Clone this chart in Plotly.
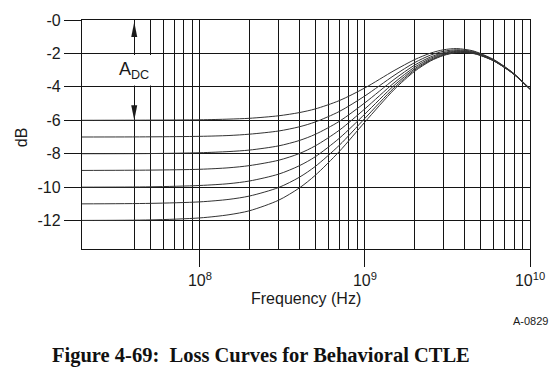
import math
import plotly.graph_objects as go

# ---- data ----
freq_hz = [1.9e7, 5e7, 1e8, 1.5e8, 2e8, 3e8, 4e8, 5e8, 7e8, 1e9, 1.5e9, 2e9,
           2.5e9, 3e9, 3.6e9, 4.5e9, 5e9, 6e9, 7e9, 8e9, 1e10]

loss_adc_6 = [-6.00, -5.99, -5.97, -5.93, -5.88, -5.73, -5.54, -5.32, -4.82, -4.06, -3.03,
              -2.37, -1.98, -1.78, -1.71, -1.84, -2.00, -2.35, -2.78, -3.21, -4.11]
loss_adc_7 = [-7.00, -6.99, -6.96, -6.91, -6.83, -6.64, -6.39, -6.10, -5.47, -4.54, -3.32,
              -2.55, -2.10, -1.87, -1.78, -1.88, -2.03, -2.38, -2.79, -3.22, -4.12]
loss_adc_8 = [-8.00, -7.99, -7.94, -7.87, -7.78, -7.53, -7.21, -6.84, -6.06, -4.95, -3.56,
              -2.70, -2.21, -1.95, -1.83, -1.92, -2.06, -2.40, -2.81, -3.23, -4.13]
loss_adc_9 = [-9.00, -8.98, -8.93, -8.84, -8.71, -8.39, -7.99, -7.53, -6.59, -5.31, -3.76,
              -2.82, -2.29, -2.00, -1.87, -1.94, -2.08, -2.41, -2.82, -3.24, -4.13]
loss_adc_10 = [-10.00, -9.98, -9.90, -9.79, -9.63, -9.22, -8.72, -8.18, -7.07, -5.62, -3.92,
               -2.92, -2.36, -2.05, -1.90, -1.97, -2.10, -2.42, -2.83, -3.25, -4.14]
loss_adc_11 = [-11.00, -10.97, -10.88, -10.73, -10.53, -10.02, -9.41, -8.76, -7.49, -5.88, -4.06,
               -3.00, -2.41, -2.09, -1.93, -1.98, -2.11, -2.43, -2.84, -3.25, -4.14]
loss_adc_12 = [-11.99, -11.96, -11.84, -11.65, -11.41, -10.78, -10.05, -9.29, -7.86, -6.10, -4.17,
               -3.07, -2.45, -2.12, -1.95, -2.00, -2.12, -2.44, -2.84, -3.26, -4.14]

curves = [loss_adc_6, loss_adc_7, loss_adc_8, loss_adc_9, loss_adc_10, loss_adc_11, loss_adc_12]

y_tick_vals = [0, -2, -4, -6, -8, -10, -12]
y_tick_text = ["-0", "-2", "-4", "-6", "-8", "-10", "-12"]
x_major_vals = [1e8, 1e9, 1e10]
x_major_text = ["10<sup>8</sup>", "10<sup>9</sup>", "10<sup>10</sup>"]
x_minor_vals = [4e7, 5e7, 6e7, 7e7, 8e7, 9e7,
                2e8, 3e8, 4e8, 5e8, 6e8, 7e8, 8e8, 9e8,
                2e9, 3e9, 4e9, 5e9, 6e9, 7e9, 8e9, 9e9]

x_min, x_max = 1.93e7, 1e10
y_min, y_max = -13.7, 0
adc_x = 4e7

GRID = "#141414"
SANS = "Liberation Sans, Arial, sans-serif"

fig = go.Figure()
for vals in curves:
    fig.add_trace(go.Scatter(
        x=freq_hz, y=vals, mode="lines",
        line=dict(color="#333333", width=1, shape="spline", smoothing=0.8),
        showlegend=False, hoverinfo="skip"))

fig.update_layout(
    width=559, height=372,
    margin=dict(l=82, r=29, t=15, b=123, pad=0),
    paper_bgcolor="white", plot_bgcolor="white",
    font=dict(family=SANS, color="#1a1a1a", size=16),
    showlegend=False,
)

fig.update_xaxes(
    type="log", range=[math.log10(x_min), math.log10(x_max)],
    tickmode="array", tickvals=x_major_vals, ticktext=x_major_text,
    ticks="outside", ticklen=17, tickwidth=1.3, tickcolor=GRID,
    tickfont=dict(size=16, family=SANS, color="#1a1a1a"),
    showgrid=True, gridcolor=GRID, gridwidth=1.3,
    minor=dict(tickmode="array", tickvals=x_minor_vals, showgrid=True,
               gridcolor=GRID, gridwidth=1.3, ticks=""),
    showline=True, linecolor=GRID, linewidth=1.3, mirror=True,
    zeroline=False,
)
fig.update_yaxes(
    range=[y_min, y_max],
    tickmode="array", tickvals=y_tick_vals, ticktext=y_tick_text,
    ticks="outside", ticklen=17, tickwidth=1.3, tickcolor=GRID,
    tickfont=dict(size=16, family=SANS, color="#1a1a1a"),
    showgrid=True, gridcolor=GRID, gridwidth=1.3,
    showline=True, linecolor=GRID, linewidth=1.3, mirror=True,
    zeroline=False,
)

# white box behind the A_DC label
fig.add_shape(type="rect", xref="paper", yref="y",
              x0=0.0574, x1=0.169, y0=-2.09, y1=-3.92,
              fillcolor="white", line=dict(width=0), layer="above")
# arrowheads
fig.add_shape(type="path", xref="x", yref="y", xsizemode="pixel", ysizemode="pixel",
              xanchor=adc_x, yanchor=0, path="M0,-2 L-3,-17 L3,-17 Z",
              fillcolor="#1a1a1a", line=dict(width=0), layer="above")
fig.add_shape(type="path", xref="x", yref="y", xsizemode="pixel", ysizemode="pixel",
              xanchor=adc_x, yanchor=-6, path="M0,0 L-3,15 L3,15 Z",
              fillcolor="#1a1a1a", line=dict(width=0), layer="above")

fig.add_annotation(x=math.log10(adc_x), y=-3.0, xref="x", yref="y",
                   text="A<sub>DC</sub>", showarrow=False,
                   font=dict(size=18, family=SANS, color="#1a1a1a"),
                   xanchor="center", yanchor="middle")

fig.add_annotation(x=0.5, y=-0.215, xref="paper", yref="paper",
                   text="Frequency (Hz)", showarrow=False,
                   font=dict(size=16, family=SANS, color="#1a1a1a"),
                   xanchor="center", yanchor="middle")
fig.add_annotation(x=-0.1347, y=0.487, xref="paper", yref="paper",
                   text="dB", showarrow=False, textangle=-90,
                   font=dict(size=16, family=SANS, color="#1a1a1a"),
                   xanchor="center", yanchor="middle")
fig.add_annotation(x=1.0, y=-0.316, xref="paper", yref="paper",
                   text="A-0829", showarrow=False,
                   font=dict(size=11, family=SANS, color="#1a1a1a"),
                   xanchor="center", yanchor="middle")
fig.add_annotation(x=(260.5 - 82) / 448, y=(249 - 357.5) / 234, xref="paper", yref="paper",
                   text="<b>Figure 4-69:\u00a0 Loss Curves for Behavioral CTLE</b>",
                   showarrow=False,
                   font=dict(size=20.5, family="Liberation Serif, Times New Roman, serif", color="#111111"),
                   xanchor="center", yanchor="middle")

fig.write_html("out.html", config={"displayModeBar": False},
               post_script="document.body.style.margin='0';document.body.style.overflow='hidden';")
